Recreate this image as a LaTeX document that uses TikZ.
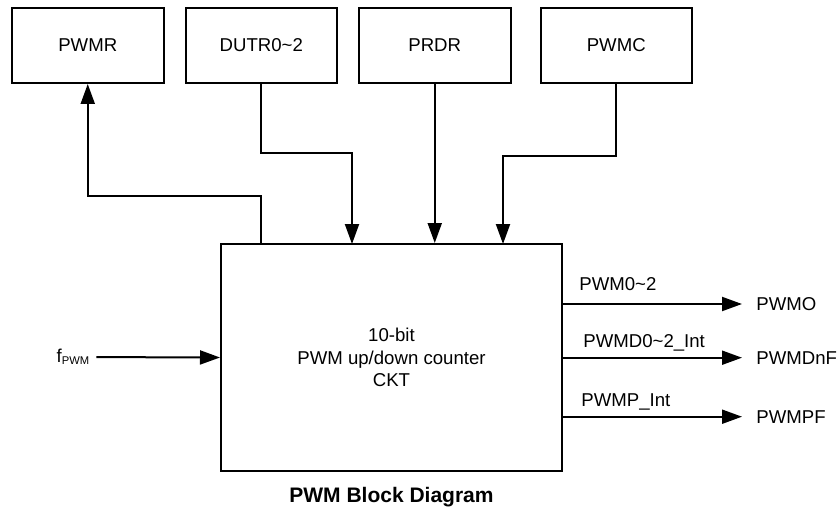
\documentclass[tikz,border=0pt]{standalone}
\usepackage{fontspec}
\setmainfont{Liberation Sans}
\usetikzlibrary{arrows.meta,positioning}

\begin{document}
\begin{tikzpicture}[x=0.5pt,y=-0.5pt,
  font=\fontsize{9.3pt}{11.2pt}\selectfont,
  reg/.style={draw,line width=1pt,minimum width=75.75pt,minimum height=37.5pt},
  ckt/.style={draw,line width=1pt,minimum width=170.5pt,minimum height=113.5pt,align=center},
  arr/.style={line width=1pt,-{Triangle[length=10pt,width=7pt]}},
  sig/.style={anchor=base west,inner sep=0pt},
  pin/.style={anchor=west,inner xsep=7pt,inner ysep=0pt}]

\useasboundingbox (0,0) rectangle (840,508);

% Registers
\node[reg] (pwmr) at (87.75,45.5) {PWMR};
\node[reg,right=10pt of pwmr] (dutr) {DUTR0\textasciitilde2};
\node[reg,right=10pt of dutr] (prdr) {PRDR};
\node[reg,right=14pt of prdr] (pwmc) {PWMC};

% Counter block
\node[ckt] (main) at (391.5,357.5) {10-bit\\PWM up/down counter\\CKT};

% Inputs on top of the block
\coordinate (rOut) at (dutr.south |- main.north);
\coordinate (dIn) at (352,244);
\coordinate (cIn) at (503,244);

\draw[arr] (rOut) -- ++(0,-47) -| (pwmr.south);
\draw[arr] (dutr.south) -- ++(0,69) -| (dIn);
\draw[arr] (prdr.south) -- (prdr.south |- main.north);
\draw[arr] (pwmc.south) -- ++(0,72) -| (cIn);

% Clock
\node (fpwm) at (73,357) {f\raisebox{-1pt}{\fontsize{5.6pt}{6pt}\selectfont PWM}};
\draw[arr] (fpwm) -- (main.west);

% Outputs
\node[pin] (pwmo) at (742,304) {PWMO};
\node[pin] (pwmdnf) at (742,357.7) {PWMDnF};
\node[pin] (pwmpf) at (742,416.7) {PWMPF};

\draw[arr] (main.east |- pwmo) -- (pwmo.west);
\draw[arr] (main.east |- pwmdnf) -- (pwmdnf.west);
\draw[arr] (main.east |- pwmpf) -- (pwmpf.west);

\node[sig,xshift=8pt,yshift=7pt] (sig0) at (main.east |- pwmo) {PWM0\textasciitilde2};
\node[sig,xshift=10pt,yshift=5pt] (sig1) at (main.east |- pwmdnf) {PWMD0\textasciitilde2\_Int};
\node[sig,xshift=9pt,yshift=5pt] (sig2) at (main.east |- pwmpf) {PWMP\_Int};

% Caption
\node[anchor=base,font=\fontsize{10.5pt}{12pt}\selectfont\bfseries] (title) at (391.5,502) {PWM Block Diagram};

\end{tikzpicture}
\end{document}
